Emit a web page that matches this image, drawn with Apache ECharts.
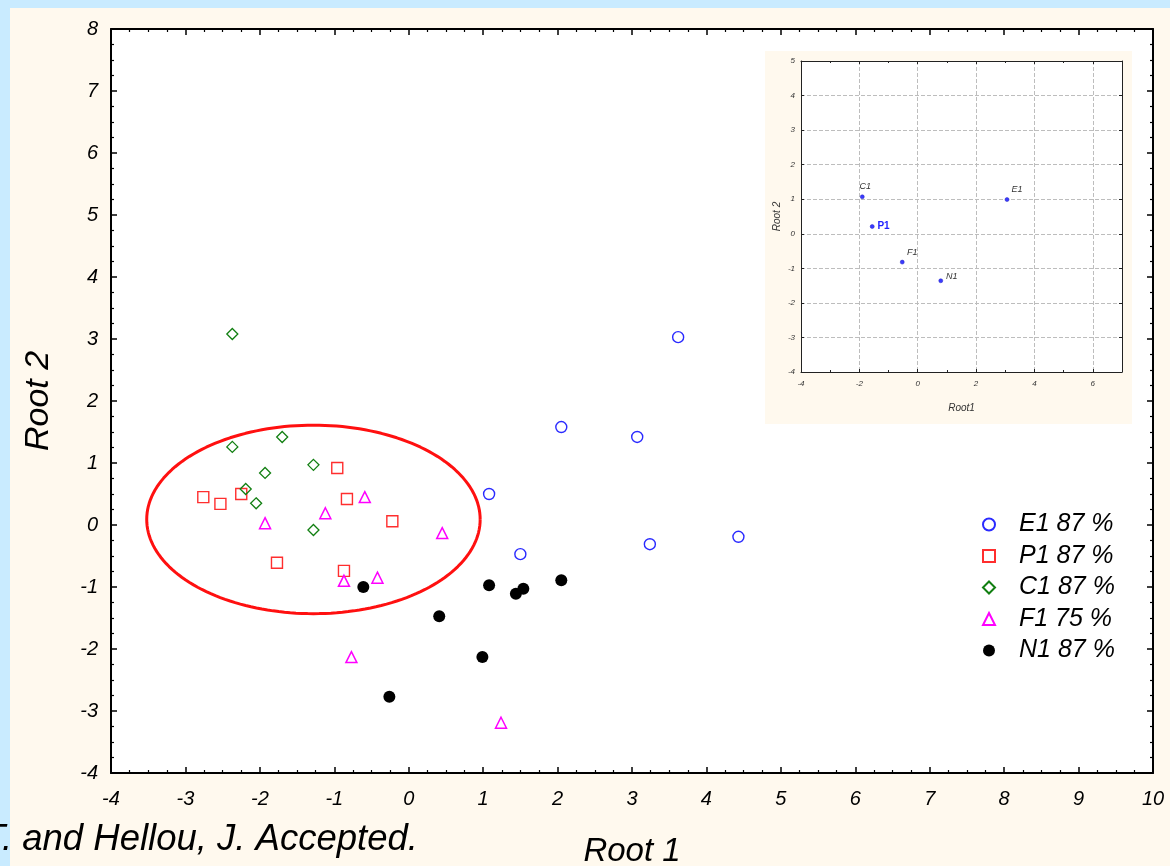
<!DOCTYPE html>
<html><head><meta charset="utf-8">
<script src="https://cdn.jsdelivr.net/npm/echarts@6/dist/echarts.min.js"></script>
<style>html,body{margin:0;padding:0;background:#C9EBFF;width:1170px;height:866px;overflow:hidden;}#c{width:1170px;height:866px;}</style>
</head><body><div id="c"></div>
<script>
// ---- data ----
const e1 = [[3.62,3.03],[2.05,1.58],[3.07,1.42],[1.08,0.50],[3.24,-0.31],[4.43,-0.19],[1.50,-0.47]];
const p1 = [[-2.76,0.45],[-2.53,0.34],[-2.25,0.50],[-0.96,0.92],[-0.83,0.42],[-0.22,0.06],[-1.77,-0.61],[-0.87,-0.74]];
const c1 = [[-2.37,3.08],[-2.37,1.26],[-1.70,1.42],[-1.93,0.84],[-1.28,0.97],[-2.19,0.58],[-2.05,0.35],[-1.28,-0.08]];
const f1 = [[-1.93,0.03],[-1.12,0.19],[-0.59,0.45],[0.45,-0.13],[-0.87,-0.90],[-0.42,-0.85],[-0.77,-2.13],[1.24,-3.19]];
const n1 = [[-0.61,-1.00],[1.08,-0.97],[1.44,-1.11],[1.54,-1.03],[2.05,-0.89],[0.41,-1.47],[0.99,-2.13],[-0.26,-2.77]];
const seriesNames = ['E1 87 %','P1 87 %','C1 87 %','F1 75 %','N1 87 %'];
const ellipseParams = {cx:-1.28, cy:0.09, rx:2.24, ry:1.52};
const insetNames = ['C1','P1','F1','N1','E1'];
const insetX = [-1.90,-1.56,-0.53,0.79,3.06];
const insetY = [1.07,0.21,-0.82,-1.36,0.99];
const mainXRange = [-4,10], mainYRange = [-4,8];
const insetXRange = [-4,7], insetYRange = [-4,5];
const mainXName = 'Root 1', mainYName = 'Root 2';
const insetXName = 'Root1', insetYName = 'Root 2';
const creditText = 'T. and Hellou, J. Accepted.';

// ellipse outline (geometric shape through the axis scales)
const ellipsePts = [];
for (let i = 0; i <= 180; i++) {
  const t = i / 180 * 2 * Math.PI;
  ellipsePts.push([ellipseParams.cx + ellipseParams.rx * Math.cos(t), ellipseParams.cy + ellipseParams.ry * Math.sin(t)]);
}

const FF = '"Liberation Sans", Arial, sans-serif';
const chart = echarts.init(document.getElementById('c'), null, {renderer:'canvas', width:1170, height:866});

function mainAxis(extra) {
  return Object.assign({
    type:'value', gridIndex:0, interval:1, z:3,
    splitLine:{show:false},
    axisLine:{show:true, onZero:false, lineStyle:{color:'#000', width:2}},
    axisTick:{show:true, inside:true, length:6, lineStyle:{color:'#000', width:1.5}},
    minorTick:{show:true, splitNumber:4, length:3, lineStyle:{color:'#000', width:1.2}},
    axisLabel:{show:true, color:'#000', fontSize:20, fontStyle:'italic', fontFamily:FF}
  }, extra);
}
function insetAxis(extra) {
  return Object.assign({
    type:'value', gridIndex:1, interval:1, z:8,
    splitLine:{show:true, lineStyle:{color:'#bdbdbd', type:'dashed', width:1}},
    axisLine:{show:true, onZero:false, lineStyle:{color:'#222', width:1}},
    axisTick:{show:true, inside:true, length:3, lineStyle:{color:'#222', width:1}},
    axisLabel:{show:true, color:'#333', fontSize:8, fontStyle:'italic', fontFamily:FF, margin:6}
  }, extra);
}

const option = {
  backgroundColor:'#C9EBFF',
  animation:false,
  graphic:[
    {type:'rect', left:10, top:8, shape:{width:1160, height:858}, style:{fill:'#FFF9EE'}, z:0, silent:true},
    {type:'rect', left:765, top:51, shape:{width:367, height:373}, style:{fill:'#FFF9EE'}, z:6, silent:true},
    {type:'text', left:-17, top:821, z:20, style:{text:creditText, font:'italic 36.5px "Liberation Sans", Arial, sans-serif', fill:'#000'}}
  ],
  legend:{
    orient:'vertical', left:977, top:507, itemWidth:12, itemHeight:12, itemGap:6.5, z:20,
    data:seriesNames,
    textStyle:{fontSize:25, fontStyle:'italic', fontFamily:FF, color:'#000', lineHeight:25, padding:[0,0,0,19]}
  },
  grid:[
    {left:111, top:29, width:1042, height:744, show:true, backgroundColor:'#fff', borderWidth:0, z:1,
      containLabel:false, outerBoundsMode:'none'},
    {left:801, top:61, width:321, height:311, show:true, backgroundColor:'#fff', borderWidth:0, z:7,
      containLabel:false, outerBoundsMode:'none'}
  ],
  xAxis:[
    mainAxis({min:mainXRange[0], max:mainXRange[1], position:'bottom',
      axisLabel:{show:true, color:'#000', fontSize:20, fontStyle:'italic', fontFamily:FF, margin:16},
      name:mainXName, nameLocation:'middle', nameGap:62,
      nameTextStyle:{fontSize:33, fontStyle:'italic', fontFamily:FF, color:'#000'}}),
    mainAxis({min:mainXRange[0], max:mainXRange[1], position:'top', axisLabel:{show:false}}),
    insetAxis({gridIndex:1, min:insetXRange[0], max:insetXRange[1], interval:2, position:'bottom',
      minorTick:{show:true, splitNumber:2, length:2, lineStyle:{color:'#222', width:1}},
      axisLabel:{show:true, color:'#333', fontSize:8, fontStyle:'italic', fontFamily:FF, margin:8,
        formatter:v => (v === insetXRange[1] ? '' : String(v))},
      name:insetXName, nameLocation:'middle', nameGap:31,
      nameTextStyle:{fontSize:10, fontStyle:'italic', fontFamily:FF, color:'#333'}}),
    insetAxis({gridIndex:1, min:insetXRange[0], max:insetXRange[1], interval:2, position:'top',
      splitLine:{show:false}, axisLabel:{show:false},
      minorTick:{show:true, splitNumber:2, length:2, lineStyle:{color:'#222', width:1}}})
  ],
  yAxis:[
    mainAxis({min:mainYRange[0], max:mainYRange[1], position:'left',
      axisLabel:{show:true, color:'#000', fontSize:20, fontStyle:'italic', fontFamily:FF, margin:13},
      name:mainYName, nameLocation:'middle', nameGap:55, nameRotate:90,
      nameTextStyle:{fontSize:34, fontStyle:'italic', fontFamily:FF, color:'#000'}}),
    mainAxis({min:mainYRange[0], max:mainYRange[1], position:'right', axisLabel:{show:false}}),
    insetAxis({gridIndex:1, min:insetYRange[0], max:insetYRange[1], position:'left',
      name:insetYName, nameLocation:'middle', nameGap:19, nameRotate:90,
      nameTextStyle:{fontSize:10, fontStyle:'italic', fontFamily:FF, color:'#333'}}),
    insetAxis({gridIndex:1, min:insetYRange[0], max:insetYRange[1], position:'right',
      splitLine:{show:false}, axisLabel:{show:false}})
  ],
  series:[
    {type:'line', name:'ellipse', xAxisIndex:0, yAxisIndex:0, data:ellipsePts, showSymbol:false, smooth:false,
      lineStyle:{color:'#FF1010', width:3}, z:4, silent:true},
    {type:'scatter', name:seriesNames[0], xAxisIndex:0, yAxisIndex:0, data:e1, symbol:'circle', symbolSize:11, z:5,
      itemStyle:{opacity:1, color:'rgba(255,255,255,0)', borderColor:'#2A2AFF', borderWidth:1.4}},
    {type:'scatter', name:seriesNames[1], xAxisIndex:0, yAxisIndex:0, data:p1, symbol:'rect', symbolSize:11, z:5,
      itemStyle:{opacity:1, color:'rgba(255,255,255,0)', borderColor:'#FF2E2E', borderWidth:1.4}},
    {type:'scatter', name:seriesNames[2], xAxisIndex:0, yAxisIndex:0, data:c1, symbol:'diamond', symbolSize:11, z:5,
      itemStyle:{opacity:1, color:'rgba(255,255,255,0)', borderColor:'#117F11', borderWidth:1.3}},
    {type:'scatter', name:seriesNames[3], xAxisIndex:0, yAxisIndex:0, data:f1, symbol:'triangle', symbolSize:11, z:5,
      itemStyle:{opacity:1, color:'rgba(255,255,255,0)', borderColor:'#FF00FF', borderWidth:1.5}},
    {type:'scatter', name:seriesNames[4], xAxisIndex:0, yAxisIndex:0, data:n1, symbol:'circle', symbolSize:12, z:5,
      itemStyle:{opacity:1, color:'#000'}},
    {type:'scatter', name:'inset', xAxisIndex:2, yAxisIndex:2, z:9, symbol:'circle', symbolSize:4,
      itemStyle:{opacity:1, color:'#3a3aff', borderColor:'#2020c0', borderWidth:0.5},
      label:{show:true, formatter:'{b}', fontSize:9, fontStyle:'italic', fontFamily:FF, color:'#333'},
      data: insetNames.map((n, i) => {
        const d = {name:n, value:[insetX[i], insetY[i]]};
        if (n === 'P1') d.label = {position:'right', distance:3, fontWeight:'bold', fontStyle:'normal', color:'#2323ff', fontSize:10};
        else if (n === 'C1') d.label = {position:'top', distance:4, offset:[3,0]};
        else if (n === 'N1') d.label = {position:'right', distance:3, offset:[0,-4]};
        else d.label = {position:'top', distance:3, offset:[10,0]};
        return d;
      })}
  ]
};
chart.setOption(option);
</script></body></html>
